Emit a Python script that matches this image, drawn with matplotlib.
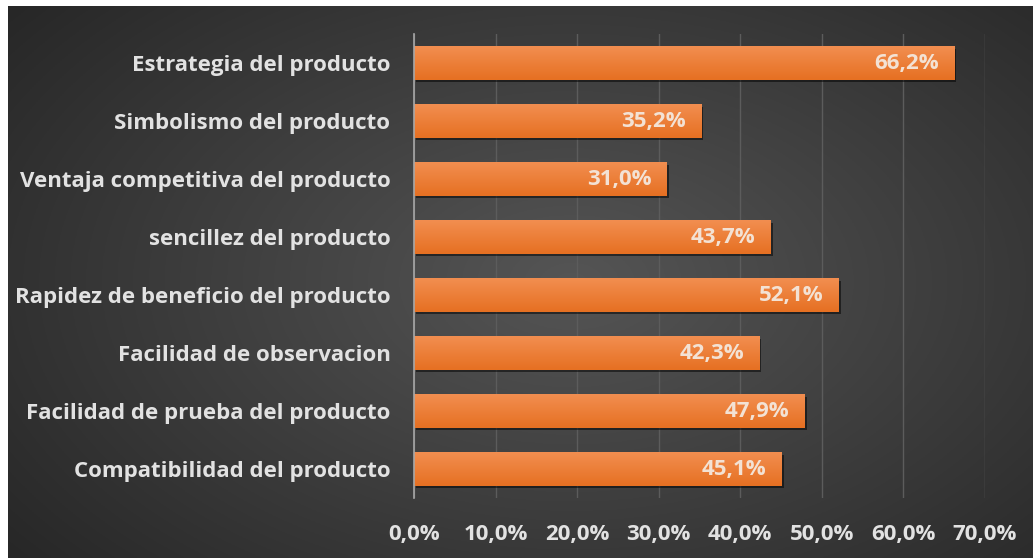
import numpy as np
import matplotlib.pyplot as plt
import matplotlib.patheffects as pe

categories = ['Estrategia del producto', 'Simbolismo del producto',
              'Ventaja competitiva del producto', 'sencillez del producto',
              'Rapidez de beneficio del producto', 'Facilidad de observacion',
              'Facilidad de prueba del producto', 'Compatibilidad del producto']
values = [66.2, 35.2, 31.0, 43.7, 52.1, 42.3, 47.9, 45.1]
xticks = [0, 10, 20, 30, 40, 50, 60, 70]

plt.rcParams['font.family'] = ['Open Sans', 'DejaVu Sans']
plt.rcParams['font.weight'] = 'bold'

fig = plt.figure(figsize=(10.33, 5.58), dpi=100, facecolor='white')

# dark radial background, with the thin white margin at top and left
bg = fig.add_axes([8 / 1033, 0, 1 - 8 / 1033, 1 - 6 / 558])
yy, xx = np.mgrid[0:1:300j, 0:1:550j]
r = np.sqrt(((xx - 0.55) / 0.75) ** 2 + ((yy - 0.5) / 0.85) ** 2)
r = np.clip(r, 0, 1)
c_in = np.array([0x55, 0x55, 0x55]) / 255
c_out = np.array([0x24, 0x24, 0x24]) / 255
img = c_in[None, None, :] * (1 - r[..., None]) + c_out[None, None, :] * r[..., None]
bg.imshow(img, aspect='auto', extent=[0, 1, 0, 1])
bg.axis('off')

ax = fig.add_axes([414 / 1033, 1 - 498 / 558, (985 - 414) / 1033, (498 - 34) / 558])
ax.patch.set_alpha(0)

y = np.arange(len(categories))
bars = ax.barh(y, values, height=0.57, color='#ef7d2f', zorder=3,
               path_effects=[pe.SimplePatchShadow(offset=(1.5, -1.5), shadow_rgbFace='black', alpha=0.5),
                             pe.Normal()])

# soft vertical gradient on each bar (lighter on top)
for b in bars:
    x0, y0, w, h = b.get_x(), b.get_y(), b.get_width(), b.get_height()
    grad = np.linspace(0, 1, 50)[:, None]
    top = np.array([0xf2, 0x8e, 0x50]) / 255
    bot = np.array([0xe6, 0x70, 0x22]) / 255
    g = top[None, None, :] * (1 - grad[..., None]) + bot[None, None, :] * grad[..., None]
    g = np.repeat(g, 2, axis=1)
    ax.imshow(g, aspect='auto', extent=[x0, x0 + w, y0 + h, y0], zorder=4)

for yi, v in zip(y, values):
    ax.annotate(f'{v:.1f}%'.replace('.', ','), xy=(v, yi), xytext=(-11, 0),
                textcoords='offset points', ha='right', va='center',
                color='#f3e2d4', fontsize=16, fontweight='bold', zorder=5)

ax.set_xlim(0, 70)
ax.set_ylim(len(categories) - 0.5, -0.5)
ax.set_yticks(y)
ax.set_yticklabels(categories)
ax.set_xticks(xticks)
ax.set_xticklabels([f'{t:.1f}%'.replace('.', ',') for t in xticks])
ax.tick_params(axis='both', length=0, colors='#e2e2e2', labelsize=16)
ax.tick_params(axis='y', pad=17)
ax.tick_params(axis='x', pad=19)
for lbl in ax.get_xticklabels() + ax.get_yticklabels():
    lbl.set_fontweight('bold')

ax.grid(axis='x', color='#5c5c5c', linewidth=1, zorder=0)
for s in ['top', 'right', 'bottom']:
    ax.spines[s].set_visible(False)
ax.spines['left'].set_color('#a8a8a8')
ax.spines['left'].set_linewidth(1.2)
ax.spines['left'].set_zorder(6)

plt.savefig('out.png', dpi=100, facecolor='white')
